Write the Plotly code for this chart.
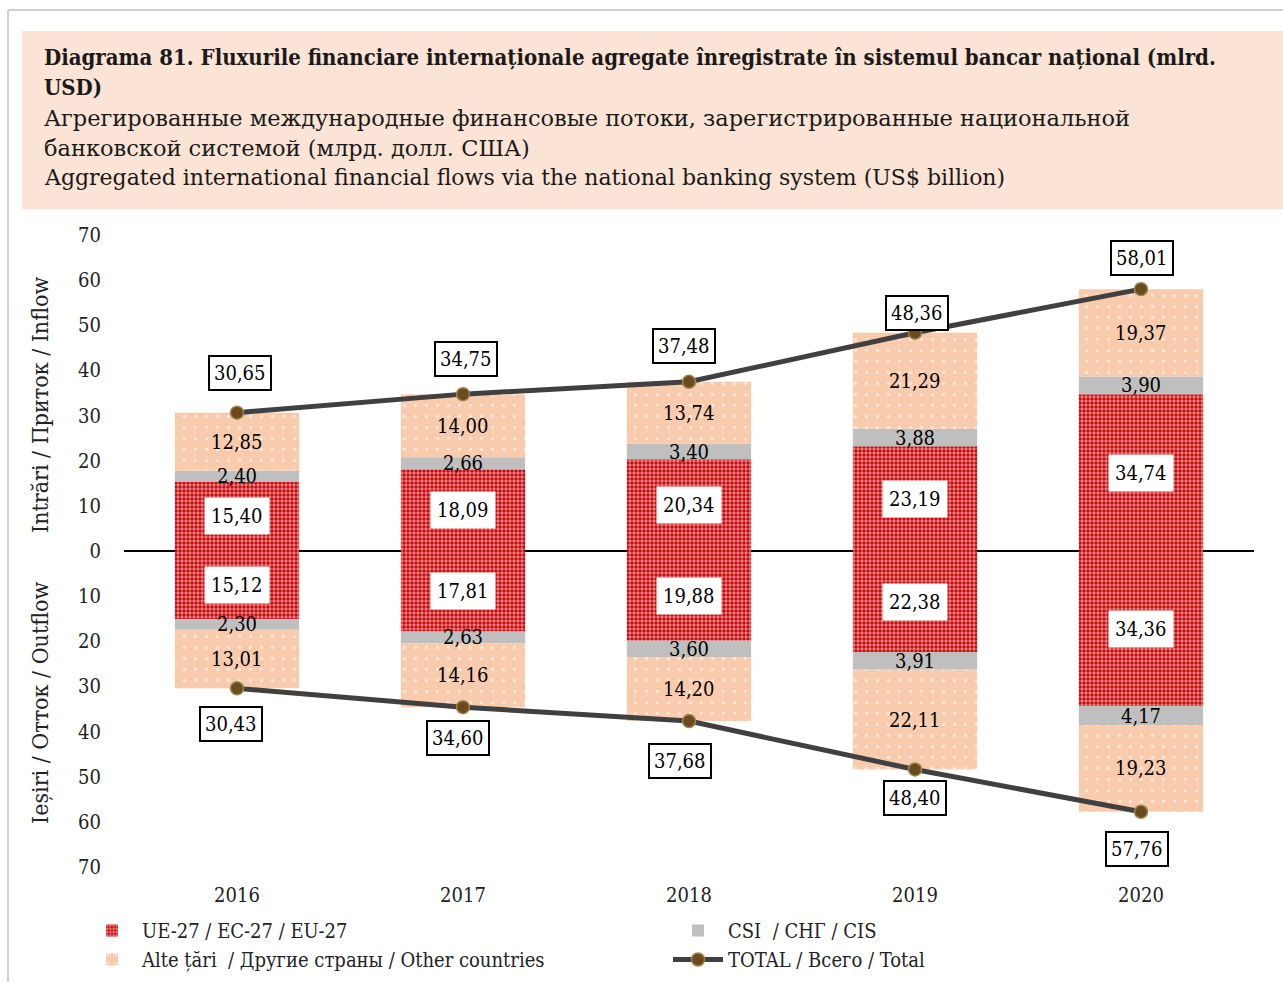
import plotly.graph_objects as go

# ---- data (US$ billion) ----
years = ["2016", "2017", "2018", "2019", "2020"]
in_eu = [15.40, 18.09, 20.34, 23.19, 34.74]
in_cis = [2.40, 2.66, 3.40, 3.88, 3.90]
in_other = [12.85, 14.00, 13.74, 21.29, 19.37]
in_total = [30.65, 34.75, 37.48, 48.36, 58.01]
out_eu = [15.12, 17.81, 19.88, 22.38, 34.36]
out_cis = [2.30, 2.63, 3.60, 3.91, 4.17]
out_other = [13.01, 14.16, 14.20, 22.11, 19.23]
out_total = [30.43, 34.60, 37.68, 48.40, 57.76]
tick_vals = [-70, -60, -50, -40, -30, -20, -10, 0, 10, 20, 30, 40, 50, 60, 70]

# ---- styling ----
FONT = "DejaVu Serif Condensed, DejaVu Serif, serif"
FONT_WIDE = "DejaVu Serif, serif"
RED = "#C80000"
GREY = "#BFBFBF"
PEACH = "#F8CBAD"
LINE = "#404040"
DOT = "#6B4A1E"

W, H = 1283, 982
L, R, T, B = 124, 29, 235, 115
PW, PH = W - L - R, H - T - B


def px_x(x):
    return (x - L) / PW


def px_y(y):
    return (H - B - y) / PH


def fmt(v):
    return f"{v:.2f}".replace(".", ",")


eu_pattern = dict(shape=".", fgcolor="white", size=4, solidity=0.55)
other_pattern = dict(shape=".", fgcolor="white", size=11, solidity=0.08)

fig = go.Figure()

series = [
    ("UE-27 / ЕС-27 / EU-27", in_eu, out_eu, RED, eu_pattern),
    ("CSI  / СНГ / CIS", in_cis, out_cis, GREY, None),
    ("Alte țări  / Другие страны / Other countries", in_other, out_other, PEACH, other_pattern),
]
for name, vin, _, col, pat in series:
    mk = dict(color=col, line=dict(width=0))
    if pat:
        mk["pattern"] = pat
    fig.add_trace(go.Bar(x=years, y=vin, name=name, marker=mk, width=0.55,
                         legendgroup=name, hoverinfo="skip"))
for name, _, vout, col, pat in series:
    mk = dict(color=col, line=dict(width=0))
    if pat:
        mk["pattern"] = pat
    fig.add_trace(go.Bar(x=years, y=[-v for v in vout], name=name, marker=mk, width=0.55,
                         legendgroup=name, showlegend=False, hoverinfo="skip"))

marker_style = dict(size=13, color=DOT, line=dict(color="#9C8450", width=1.5))
fig.add_trace(go.Scatter(x=years, y=in_total, mode="lines+markers", name="TOTAL / Всего / Total",
                         line=dict(color=LINE, width=5), marker=marker_style, legendgroup="tot"))
fig.add_trace(go.Scatter(x=years, y=[-v for v in out_total], mode="lines+markers",
                         line=dict(color=LINE, width=5), marker=marker_style,
                         showlegend=False, legendgroup="tot"))

ann = []
# segment labels, centred on each stacked segment (x given as category index)
for sign, eu, cis, oth in [(1, in_eu, in_cis, in_other), (-1, out_eu, out_cis, out_other)]:
    for i in range(len(years)):
        base = 0
        for j, v in enumerate([eu[i], cis[i], oth[i]]):
            c = sign * (base + v / 2)
            base += v
            a = dict(x=i, y=c, text=fmt(v), showarrow=False,
                     font=dict(family=FONT, size=20, color="black"))
            if j == 0:
                a.update(bgcolor="white", borderpad=6)
            ann.append(a)

# boxed totals
in_shift = [(3, 40), (3, 35), (-5, 36), (2, 20), (1, 31)]
out_shift = [(-6, -36), (-5, -31), (-9, -40), (0, -29), (-4, -37)]
for i in range(len(years)):
    for v, (dx, dy) in [(in_total[i], in_shift[i]), (-out_total[i], out_shift[i])]:
        ann.append(dict(x=i, y=v, text=fmt(abs(v)), showarrow=False, xshift=dx, yshift=dy,
                        font=dict(family=FONT, size=20, color="black"),
                        bgcolor="white", bordercolor="black", borderwidth=2, borderpad=4))

# axis side titles
for txt, yc in [("Intrări / Приток / Inflow", 405), ("Ieșiri / Отток / Outflow", 703)]:
    ann.append(dict(xref="paper", yref="paper", x=px_x(40), y=px_y(yc), text=txt,
                    xanchor="center", yanchor="middle", textangle=-90, showarrow=False,
                    font=dict(family=FONT, size=23, color="#222")))

# heading block
title_lines = [
    ("<b>Diagrama 81. Fluxurile financiare internaționale agregate înregistrate în sistemul bancar național (mlrd.</b>", 57, 22, FONT),
    ("<b>USD)</b>", 87, 22, FONT),
    ("Агрегированные международные финансовые потоки, зарегистрированные национальной", 118, 22.5, FONT_WIDE),
    ("банковской системой (млрд. долл. США)", 148, 22.5, FONT_WIDE),
    ("Aggregated international financial flows via the national banking system (US$ billion)", 178, 22, FONT_WIDE),
]
for txt, yc, fs, fam in title_lines:
    ann.append(dict(xref="paper", yref="paper", x=px_x(42), y=px_y(yc), text=txt, xanchor="left",
                    yanchor="middle", showarrow=False, font=dict(family=fam, size=fs, color="#1a1a1a")))

shapes = [
    dict(type="rect", xref="paper", yref="paper", x0=px_x(22), x1=px_x(1283), y0=px_y(209), y1=px_y(31),
         fillcolor="#FBE4D5", line=dict(width=0), layer="below"),
    dict(type="line", xref="paper", yref="paper", x0=px_x(8), x1=px_x(8), y0=px_y(982), y1=px_y(10),
         line=dict(color="#D0D0D0", width=2)),
    dict(type="line", xref="paper", yref="paper", x0=px_x(8), x1=px_x(1283), y0=px_y(10), y1=px_y(10),
         line=dict(color="#D0D0D0", width=2)),
]

fig.update_layout(
    width=W, height=H,
    margin=dict(l=L, r=R, t=T, b=B, autoexpand=False),
    paper_bgcolor="white", plot_bgcolor="white",
    barmode="relative", bargap=0.45,
    font=dict(family=FONT, size=20, color="#222"),
    annotations=ann, shapes=shapes,
    showlegend=True,
    legend=dict(orientation="h", x=px_x(82), y=px_y(911), xanchor="left", yanchor="top",
                entrywidth=521, entrywidthmode="pixels", traceorder="normal",
                font=dict(family=FONT, size=20, color="#222"), itemwidth=50,
                bgcolor="rgba(0,0,0,0)"),
    xaxis=dict(type="category", range=[-0.5, 4.5], showgrid=False, showline=False, ticks="",
               tickfont=dict(family=FONT, size=20, color="#222"), ticklabelstandoff=14),
    yaxis=dict(range=[-70, 70], tickvals=tick_vals, ticktext=[str(abs(v)) for v in tick_vals],
               showgrid=False, showline=False, ticks="", zeroline=True, zerolinecolor="black",
               zerolinewidth=2, tickfont=dict(family=FONT, size=20, color="#222"),
               ticklabelstandoff=22),
)

fig.write_html("out.html")
